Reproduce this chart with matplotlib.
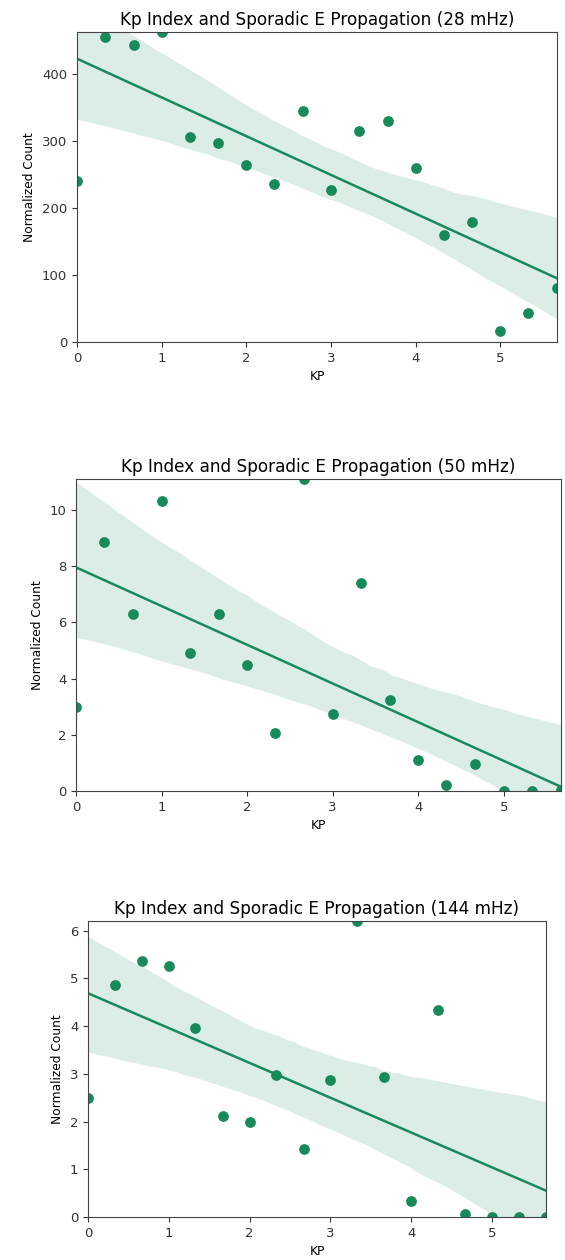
import numpy as np
import matplotlib
matplotlib.use("Agg")
import matplotlib.pyplot as plt
import seaborn as sns

# Kp index steps (thirds)
kp = [0, 0.33, 0.67, 1, 1.33, 1.67, 2, 2.33, 2.67, 3, 3.33, 3.67, 4, 4.33, 4.67, 5, 5.33, 5.67]

count_28 = [240, 455, 442, 462, 306, 296, 264, 236, 345, 227, 315, 330, 259, 159, 179, 17, 43, 81]
count_50 = [3.0, 8.85, 6.3, 10.3, 4.9, 6.3, 4.5, 2.05, 11.1, 2.75, 7.4, 3.25, 1.1, 0.2, 0.95, 0.0, 0.0, 0.05]
count_144 = [2.5, 4.85, 5.37, 5.25, 3.95, 2.12, 2.0, 2.97, 1.42, 2.88, 6.2, 2.93, 0.33, 4.33, 0.07, 0.0, 0.0, 0.0]

bands = ["28", "50", "144"]
counts = [count_28, count_50, count_144]

color = "#178a5a"

fig = plt.figure(figsize=(5.65, 12.6), dpi=100)
W, H = 565, 1260
# left, top, right, bottom in pixels
boxes = [(77, 32, 557, 342), (76, 479, 561, 791), (88, 921, 546, 1217)]

for band, y, (l, t, r, b) in zip(bands, counts, boxes):
    ax = fig.add_axes([l / W, 1 - b / H, (r - l) / W, (b - t) / H])
    sns.regplot(x=np.array(kp), y=np.array(y), ax=ax, color=color, seed=3,
                scatter_kws={"s": 45, "alpha": 1}, line_kws={"lw": 1.8})
    ax.set_xlim(0, max(kp))
    ax.set_ylim(0, max(y))
    ax.set_title(f"Kp Index and Sporadic E Propagation ({band} mHz)", fontsize=12.2, pad=5)
    ax.set_xlabel("KP", fontsize=8.8)
    ax.set_ylabel("Normalized Count", fontsize=8.8)
    ax.tick_params(labelsize=9.5, colors="#333333")
    for s in ax.spines.values():
        s.set_color("#444444")

fig.savefig("out.png", dpi=100)
